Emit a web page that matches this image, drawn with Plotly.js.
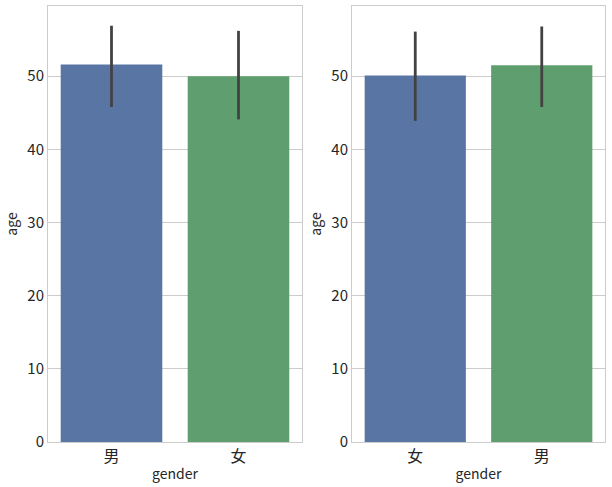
<!DOCTYPE html>
<html><head><meta charset="utf-8">
<script src="https://cdn.plot.ly/plotly-3.0.1.min.js"></script>
<style>body{margin:0;padding:0;background:#fff}#chart{width:612px;height:487px}</style>
</head><body><div id="chart"></div>
<script>
const leftCats = ['男', '女'];
const leftMeans = [51.6, 50.0];
const leftUpper = [56.9, 56.2];
const leftLower = [45.8, 44.1];

const rightCats = ['女', '男'];
const rightMeans = [50.1, 51.5];
const rightUpper = [56.1, 56.8];
const rightLower = [43.9, 45.8];

const barColors = ['#5975a4', '#5f9e6e'];
const font = "'Noto Sans CJK SC', 'DejaVu Sans', sans-serif";

function trace(cats, means, up, lo, xa, ya) {
  return {
    type: 'bar', x: cats, y: means, xaxis: xa, yaxis: ya,
    marker: {color: barColors, line: {width: 0}},
    width: 0.8,
    error_y: {type: 'data', symmetric: false,
      array: up.map((u, i) => u - means[i]),
      arrayminus: lo.map((l, i) => means[i] - l),
      color: '#424242', thickness: 2.8, width: 0},
    hoverinfo: 'none', showlegend: false
  };
}

const yax = (anchor) => ({
  anchor: anchor, range: [0, 59.6], dtick: 10, tick0: 0,
  showgrid: true, gridcolor: '#cccccc', gridwidth: 1,
  showline: true, linecolor: '#cccccc', linewidth: 1, mirror: true,
  zeroline: false, ticks: '', ticklen: 0,
  tickfont: {family: font, size: 15, color: '#262626'},
  title: {text: 'age', font: {family: font, size: 14, color: '#262626'}, standoff: 6}
});
const xax = (domain, anchor) => ({
  domain: domain, anchor: anchor,
  showgrid: false, showline: true, linecolor: '#cccccc', linewidth: 1, mirror: true,
  ticks: '', tickfont: {family: font, size: 16, color: '#262626'},
  title: {text: 'gender', font: {family: font, size: 14, color: '#262626'}, standoff: 2}
});

const layout = {
  width: 612, height: 487,
  margin: {l: 48, r: 7, t: 6, b: 45},
  paper_bgcolor: '#ffffff', plot_bgcolor: '#ffffff',
  bargap: 0.2,
  xaxis: xax([0, 0.456], 'y'),
  yaxis: yax('x'),
  xaxis2: xax([0.5458, 1], 'y2'),
  yaxis2: yax('x2'),
  font: {family: font}
};

Plotly.newPlot('chart', [
  trace(leftCats, leftMeans, leftUpper, leftLower, 'x', 'y'),
  trace(rightCats, rightMeans, rightUpper, rightLower, 'x2', 'y2')
], layout, {staticPlot: true});
</script></body></html>
